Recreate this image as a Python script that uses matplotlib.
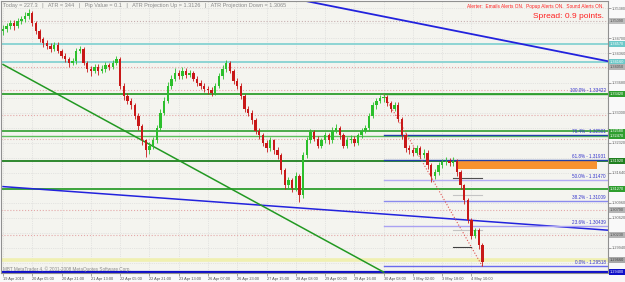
import numpy as np
import matplotlib.pyplot as plt
from matplotlib.patches import Rectangle
from matplotlib.transforms import blended_transform_factory

plt.rcParams['font.family'] = ['Liberation Sans', 'DejaVu Sans']

# ----------------------------
# EURUSD, 2-hour candles
# x is counted in H1 bars from 19 Apr 2010 13:00
# ----------------------------
first_open = 1.3486
closes = [1.3491, 1.3497, 1.3504, 1.3497, 1.3509, 1.3513, 1.3520, 1.3527, 1.3504, 1.3486,
          1.3468, 1.3459, 1.3452, 1.3446, 1.3455, 1.3441, 1.3430, 1.3423, 1.3414, 1.3418,
          1.3441, 1.3446, 1.3414, 1.3400, 1.3396, 1.3405, 1.3396, 1.3400, 1.3409, 1.3405,
          1.3414, 1.3423, 1.3362, 1.3339, 1.3328, 1.3317, 1.3294, 1.3271, 1.3238, 1.3215,
          1.3226, 1.3238, 1.3265, 1.3301, 1.3328, 1.3362, 1.3378, 1.3391, 1.3384, 1.3396,
          1.3387, 1.3391, 1.3378, 1.3369, 1.3362, 1.3355, 1.3351, 1.3346, 1.3362, 1.3384,
          1.3400, 1.3414, 1.3396, 1.3373, 1.3362, 1.3339, 1.3310, 1.3301, 1.3283, 1.3260,
          1.3249, 1.3233, 1.3220, 1.3238, 1.3215, 1.3204, 1.3170, 1.3136, 1.3147, 1.3129,
          1.3158, 1.3113, 1.3204, 1.3238, 1.3256, 1.3242, 1.3226, 1.3238, 1.3249, 1.3238,
          1.3260, 1.3265, 1.3249, 1.3226, 1.3238, 1.3242, 1.3233, 1.3249, 1.3260, 1.3265,
          1.3294, 1.3317, 1.3328, 1.3333, 1.3337, 1.3323, 1.3310, 1.3319, 1.3287, 1.3249,
          1.3220, 1.3215, 1.3210, 1.3220, 1.3204, 1.3210, 1.3181, 1.3158, 1.3165, 1.3181,
          1.3188, 1.3192, 1.3186, 1.3192, 1.3165, 1.3136, 1.3102, 1.3057, 1.3021, 1.3034,
          1.3000, 1.2962]
highs = [1.3499, 1.3505, 1.3512, 1.3510, 1.3516, 1.3520, 1.3530, 1.3536, 1.3532, 1.3508,
         1.3490, 1.3473, 1.3466, 1.3458, 1.3462, 1.3460, 1.3446, 1.3436, 1.3428, 1.3425,
         1.3448, 1.3452, 1.3450, 1.3418, 1.3406, 1.3412, 1.3410, 1.3408, 1.3416, 1.3414,
         1.3420, 1.3430, 1.3428, 1.3368, 1.3345, 1.3334, 1.3322, 1.3300, 1.3276, 1.3242,
         1.3234, 1.3245, 1.3272, 1.3308, 1.3336, 1.3370, 1.3386, 1.3402, 1.3398, 1.3405,
         1.3402, 1.3398, 1.3396, 1.3384, 1.3375, 1.3368, 1.3362, 1.3358, 1.3368, 1.3390,
         1.3408, 1.3420, 1.3418, 1.3400, 1.3380, 1.3368, 1.3344, 1.3316, 1.3306, 1.3288,
         1.3266, 1.3255, 1.3238, 1.3245, 1.3242, 1.3222, 1.3210, 1.3175, 1.3155, 1.3152,
         1.3165, 1.3162, 1.3212, 1.3245, 1.3264, 1.3262, 1.3248, 1.3244, 1.3256, 1.3255,
         1.3268, 1.3274, 1.3270, 1.3254, 1.3245, 1.3250, 1.3248, 1.3255, 1.3266, 1.3272,
         1.3300, 1.3324, 1.3335, 1.3340, 1.3342, 1.3340, 1.3328, 1.3326, 1.3324, 1.3292,
         1.3254, 1.3228, 1.3222, 1.3228, 1.3226, 1.3218, 1.3215, 1.3186, 1.3172, 1.3188,
         1.3196, 1.3200, 1.3198, 1.3199, 1.3196, 1.3170, 1.3140, 1.3108, 1.3062, 1.3040,
         1.3038, 1.3004]
lows = [1.3478, 1.3484, 1.3490, 1.3489, 1.3492, 1.3502, 1.3507, 1.3514, 1.3498, 1.3479,
        1.3462, 1.3450, 1.3444, 1.3438, 1.3440, 1.3435, 1.3424, 1.3416, 1.3405, 1.3408,
        1.3412, 1.3436, 1.3408, 1.3392, 1.3384, 1.3390, 1.3387, 1.3390, 1.3394, 1.3398,
        1.3400, 1.3408, 1.3355, 1.3330, 1.3320, 1.3308, 1.3286, 1.3262, 1.3228, 1.3199,
        1.3206, 1.3218, 1.3232, 1.3258, 1.3295, 1.3322, 1.3355, 1.3372, 1.3376, 1.3378,
        1.3380, 1.3381, 1.3372, 1.3362, 1.3355, 1.3348, 1.3343, 1.3338, 1.3340, 1.3356,
        1.3378, 1.3394, 1.3390, 1.3366, 1.3355, 1.3332, 1.3302, 1.3294, 1.3275, 1.3252,
        1.3242, 1.3226, 1.3212, 1.3214, 1.3208, 1.3196, 1.3162, 1.3128, 1.3130, 1.3120,
        1.3122, 1.3097, 1.3108, 1.3198, 1.3232, 1.3236, 1.3220, 1.3220, 1.3232, 1.3230,
        1.3232, 1.3255, 1.3242, 1.3220, 1.3220, 1.3232, 1.3226, 1.3228, 1.3244, 1.3254,
        1.3260, 1.3288, 1.3310, 1.3322, 1.3326, 1.3316, 1.3302, 1.3305, 1.3280, 1.3240,
        1.3212, 1.3207, 1.3202, 1.3204, 1.3197, 1.3198, 1.3174, 1.3143, 1.3150, 1.3160,
        1.3176, 1.3182, 1.3180, 1.3180, 1.3158, 1.3128, 1.3094, 1.3050, 1.3014, 1.3016,
        1.2992, 1.2952]
bar_step = 2

date_labels = ["19 Apr 2010", "20 Apr 05:00", "20 Apr 21:00", "21 Apr 13:00", "22 Apr 05:00",
               "22 Apr 21:00", "23 Apr 13:00", "26 Apr 07:00", "26 Apr 23:00", "27 Apr 15:00",
               "28 Apr 08:00", "29 Apr 00:00", "29 Apr 16:00", "30 Apr 08:00", "3 May 02:00",
               "3 May 18:00", "4 May 10:00"]
date_bars = [0, 16, 32, 48, 64, 80, 96, 112, 128, 144, 160, 176, 192, 208, 224, 240, 256]

# grid prices of the right scale, and those whose label is not hidden by a price box
price_grid = [1.3538, 1.3504, 1.3470, 1.3436, 1.3402, 1.3368, 1.3334, 1.3300, 1.3266,
              1.3232, 1.3198, 1.3164, 1.3130, 1.3096, 1.3062, 1.3028, 1.2994, 1.2960]
price_labels = [1.3538, 1.3470, 1.3436, 1.3368, 1.3300, 1.3232, 1.3164, 1.3096,
                1.3062, 1.2994]

# full-width horizontal lines: price, colour, style, width
hline_prices = [1.3509, 1.3457, 1.3416, 1.3405, 1.3351, 1.3342, 1.3296, 1.3258, 1.3247,
                1.3240, 1.3192, 1.3127, 1.3079, 1.3023, 1.2966, 1.2940]
hline_colors = ['#c8b0b0', '#86d2d2', '#86d2d2', '#e4a8a8', '#e4a8a8', '#2e9e2e', '#e4a8a8',
                '#2e9e2e', '#5cbf5c', '#e4a8a8', '#1f801f', '#2e9e2e', '#e4a8a8', '#e4a8a8',
                '#f0f0b0', '#1010c8']
hline_styles = [':', '-', '-', ':', ':', '-', ':', '-', '-', ':', '-', '-', ':', ':', '-', '-']
hline_widths = [0.8, 1.3, 1.3, 0.8, 0.8, 1.3, 0.8, 1.2, 1.0, 0.8, 1.3, 1.3, 0.8, 0.8, 2.6, 1.6]

# price boxes on the right scale
box_prices = [1.3509, 1.3457, 1.3416, 1.3405, 1.3342, 1.3258, 1.3247, 1.3192, 1.3127,
              1.3079, 1.3023, 1.2966, 1.2940]
box_faces = ['#bdbdbd', '#6cc8c8', '#6cc8c8', '#b5b5b5', '#2e9e2e', '#2e9e2e', '#2e9e2e',
             '#1f801f', '#2e9e2e', '#b5b5b5', '#b5b5b5', '#a8a8a8', '#1010c8']
box_text = ['#505050', 'white', 'white', '#505050', 'white', 'white', 'white',
            'white', 'white', '#505050', '#505050', '#404040', 'white']

# trend lines: (bar, price) pairs
blue_top = ([157, 331], [1.3561, 1.3417])
blue_low = ([0, 331], [1.3133, 1.3034])
green_diag = ([0, 208], [1.3410, 1.2939])

# fibonacci retracement
fib_high, fib_low = 1.33422, 1.29518
fib_start, fib_end = 208, 262
fib_levels = [0.0, 23.6, 38.2, 50.0, 61.8, 76.4, 100.0]
fib_colors = ['#6a6aee', '#aaa2f2', '#8a8aee', '#b4acf4', '#2040a8', '#2040a8', '#2e9e2e']

# orange zone and short projection lines
zone_bars = (247.5, 324.6)
zone_prices = (1.3172, 1.3192)
short_lines = [(246, 262, 1.3152, '#505050'), (246, 262, 1.3113, '#c4c4c4'),
               (246, 262, 1.3034, '#c4c4c4'), (246, 256, 1.2996, '#404040')]

# ----------------------------
# Figure
# ----------------------------
W, H = 625, 282
fig = plt.figure(figsize=(W / 100, H / 100), dpi=100, facecolor='#f9f9f9')
ax = fig.add_axes([1 / W, (H - 273) / H, 607 / W, 272 / H])
ax.set_facecolor('#f4f4ef')
ax.set_xlim(-1.1, 330.6)
ax.set_ylim(1.2937, 1.3554)

for p, c, s, w in zip(hline_prices, hline_colors, hline_styles, hline_widths):
    ax.axhline(p, color=c, linestyle=s, linewidth=w, zorder=1)

ax.plot(*blue_top, color='#2222dd', linewidth=1.3, zorder=2)
ax.plot(*blue_low, color='#2222dd', linewidth=1.1, zorder=2)
ax.plot(*green_diag, color='#229922', linewidth=1.1, zorder=2)

ax.add_patch(Rectangle((zone_bars[0], zone_prices[0]), zone_bars[1] - zone_bars[0],
                       zone_prices[1] - zone_prices[0], facecolor='#f7922e',
                       edgecolor='none', zorder=2))

for lvl, col in zip(fib_levels, fib_colors):
    price = fib_low + (fib_high - fib_low) * lvl / 100
    ax.plot([fib_start, 331], [price, price], color=col, linewidth=1.0, zorder=2)
    ax.text(329.5, price + 0.00025, f"{lvl:.1f}% - {price:.5f}", color='#3333cc',
            fontsize=3.3, ha='right', va='bottom', zorder=4)
ax.plot([fib_start, fib_end], [fib_high, fib_low], color='#e05050', linestyle=':',
        linewidth=0.8, zorder=2)

for x0, x1, p, c in short_lines:
    ax.plot([x0, x1], [p, p], color=c, linewidth=0.8, zorder=2)

# candles
closes = np.array(closes)
opens = np.concatenate([[first_open], closes[:-1]])
xs = np.arange(len(closes)) * bar_step
up = closes >= opens
cols = np.where(up, '#2cbf2c', '#c81818')
ax.vlines(xs, lows, highs, colors=cols, linewidth=0.6, zorder=3)
body = np.maximum(np.abs(closes - opens), 0.00006)
ax.bar(xs, body, bottom=np.minimum(opens, closes), width=1.3, color=cols,
       linewidth=0, zorder=3)

# dotted grid
for p in price_grid:
    ax.axhline(p, color='#d4d4d4', linestyle=':', linewidth=0.5, zorder=0)
for b in date_bars:
    ax.axvline(b, color='#d4d4d4', linestyle=':', linewidth=0.5, zorder=0)

# right price scale
ax.yaxis.tick_right()
ax.set_yticks(price_labels)
ax.set_yticklabels([f"{p:.5f}" for p in price_labels])
ax.tick_params(axis='y', labelsize=2.8, labelcolor='#606060', length=2, width=0.5,
               color='#808080', pad=1)

trans = blended_transform_factory(ax.transAxes, ax.transData)
for p, fc, tc in zip(box_prices, box_faces, box_text):
    ax.text(1.003, p, f"{p:.5f}", transform=trans, fontsize=2.8, color=tc, ha='left',
            va='center', clip_on=False, zorder=5,
            bbox=dict(boxstyle='square,pad=0.25', facecolor=fc, edgecolor='none'))

# bottom time scale
ax.set_xticks(date_bars)
ax.set_xticklabels(date_labels)
ax.tick_params(axis='x', labelsize=2.8, labelcolor='#505050', length=2, width=0.5,
               color='#808080', pad=1)
for lab in ax.get_xticklabels():
    lab.set_horizontalalignment('left')

for sp in ax.spines.values():
    sp.set_color('#909090')
    sp.set_linewidth(0.8)

# texts
fig.text(3 / W, 1 - 5 / H,
         "Today = 227.3   |   ATR = 344   |   Pip Value = 0.1   |   "
         "ATR Projection Up = 1.3126   |   ATR Projection Down = 1.3065",
         fontsize=4.0, color='#8a8a8a', ha='left', va='center')
fig.text(604 / W, 1 - 6.5 / H,
         "Alerter:  Emails Alerts ON.  Popup Alerts ON.  Sound Alerts ON.",
         fontsize=3.4, color='#ff2020', ha='right', va='center')
fig.text(604 / W, 1 - 17 / H, "Spread: 0.9 points.", fontsize=6, color='#ff2020',
         ha='right', va='center')
fig.text(3 / W, 1 - 269 / H, "MBT MetaTrader 4, \u00a9 2001-2008 MetaQuotes Software Corp.",
         fontsize=3.3, color='#8a8a8a', ha='left', va='center')

fig.savefig('out.png', dpi=100, facecolor=fig.get_facecolor())
